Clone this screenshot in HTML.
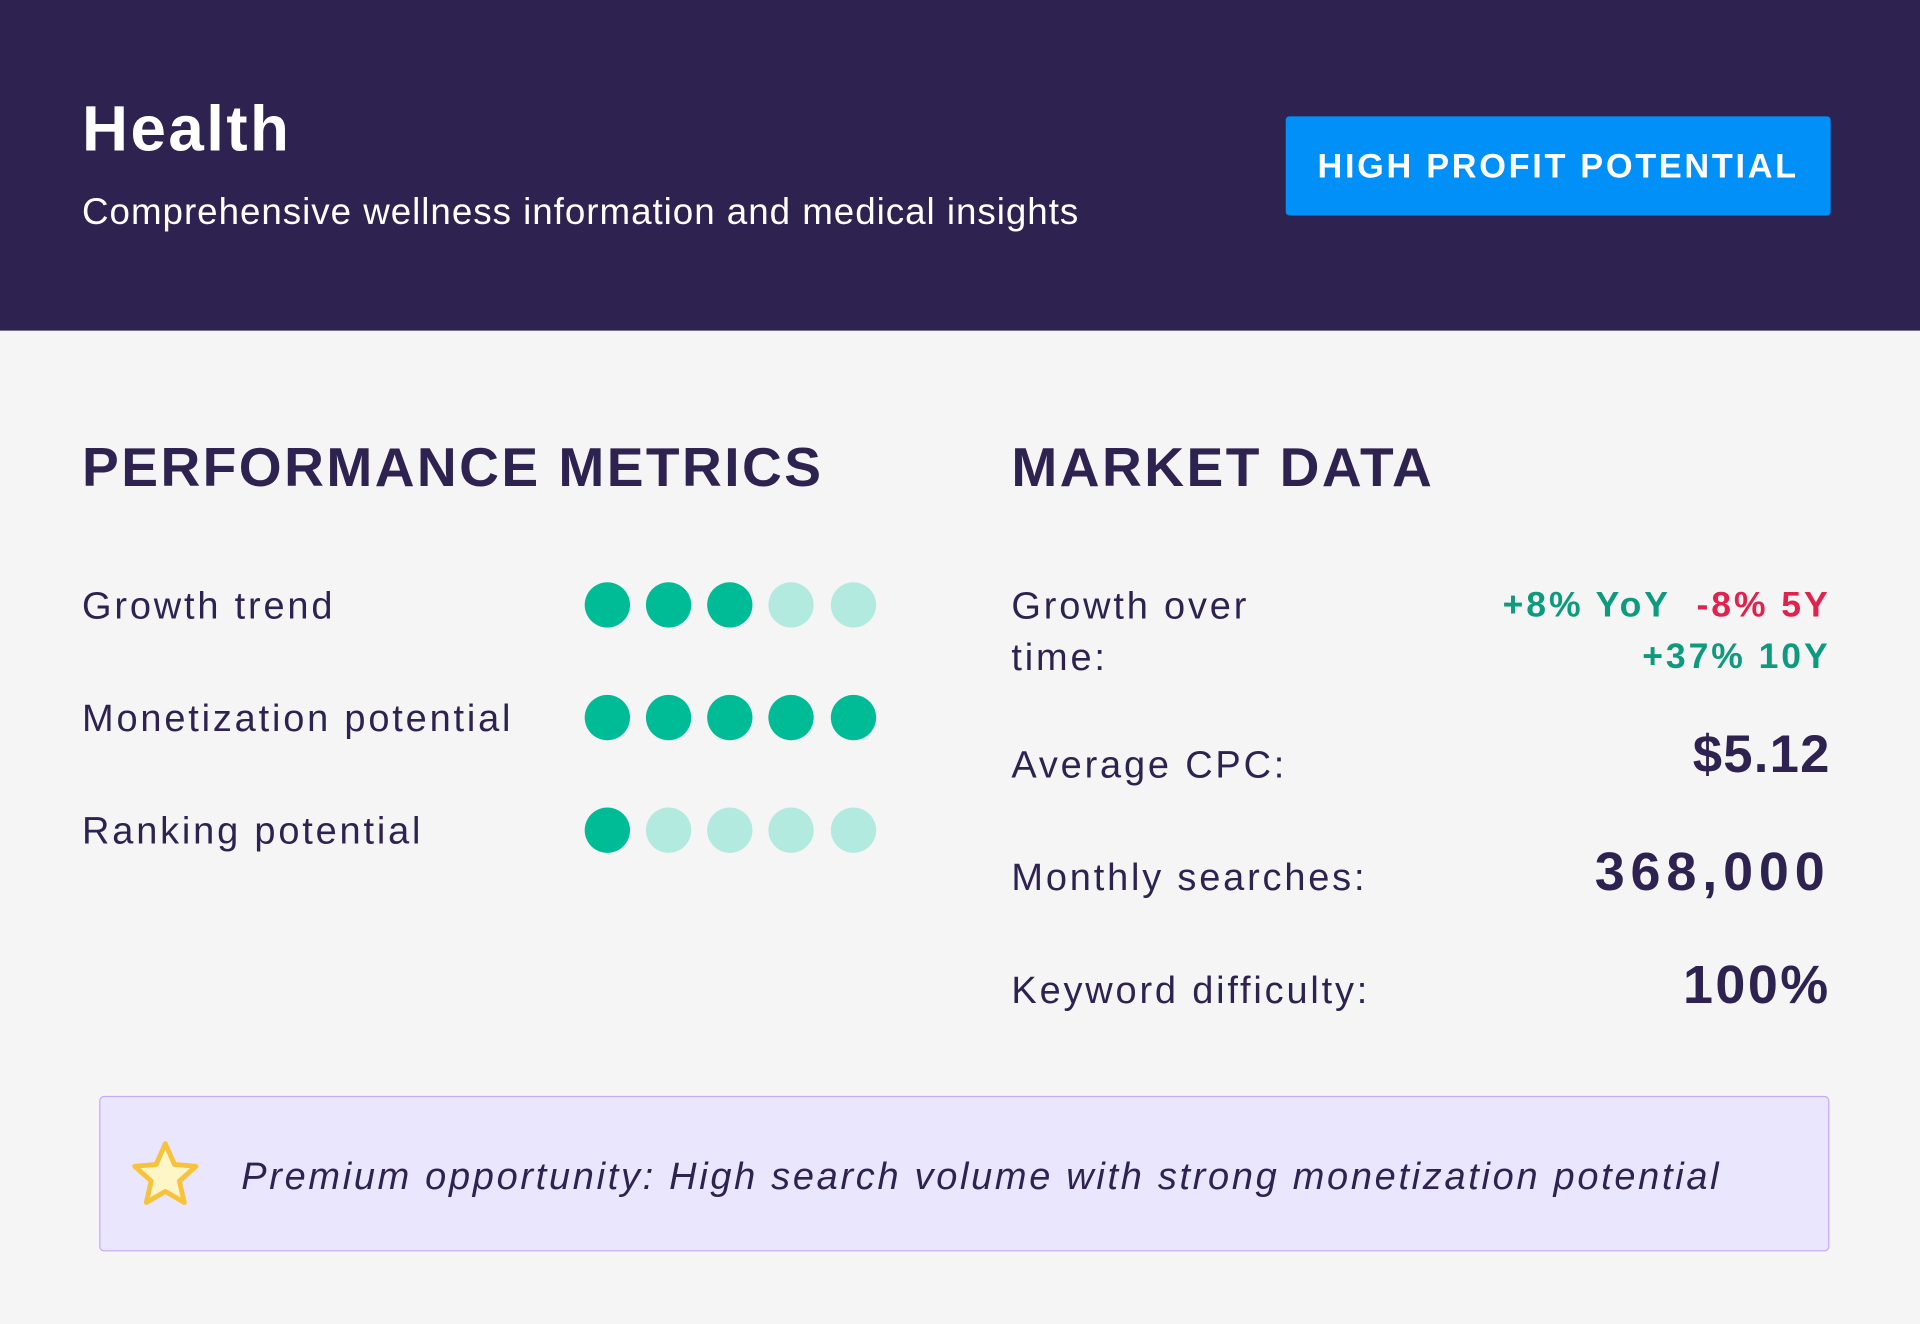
<!DOCTYPE html>
<html><head><meta charset="utf-8"><style>
html,body{margin:0;padding:0;width:1920px;height:1324px;overflow:hidden;background:#f5f5f5}
#w{position:absolute;left:0;top:0;width:1568px;height:1081px;transform:scale(1.22449);transform-origin:0 0;font-family:"Liberation Sans",sans-serif;color:#2e2350}
.a{position:absolute;white-space:nowrap}
.hdr{position:absolute;left:0;top:0;width:1568px;height:270px;background:#2e2350}
.lbl{font-size:31px;letter-spacing:2.3px;transform:translateY(-50%)}
.dot{position:absolute;width:37px;height:37px;border-radius:50%;transform:translate(-50%,-50%)}
.d{background:#00bc96}.l{background:#b3eadf}
.val{font-weight:bold;right:73px;transform:translateY(-50%);letter-spacing:1px}
</style></head><body><div id="w">
<div class="hdr"></div>
<div class="a" style="left:67px;top:76px;font-size:52px;font-weight:bold;color:#fff;letter-spacing:2px">Health</div>
<div class="a" style="left:67px;top:157px;font-size:30px;color:#fff;letter-spacing:0.8px">Comprehensive wellness information and medical insights</div>
<div class="a" style="left:1050px;top:95px;width:445px;height:81px;background:#0090f8;border-radius:3px;color:#fff;font-weight:bold;font-size:28px;letter-spacing:2.2px;line-height:81px;text-align:center">HIGH PROFIT POTENTIAL</div>

<div class="a" style="left:67px;top:356px;font-size:45px;font-weight:bold;letter-spacing:2px">PERFORMANCE METRICS</div>
<div class="a" style="left:826px;top:356px;font-size:45px;font-weight:bold;letter-spacing:2px">MARKET DATA</div>

<div class="a lbl" style="left:67px;top:495px">Growth trend</div>
<div class="a lbl" style="left:67px;top:587px">Monetization potential</div>
<div class="a lbl" style="left:67px;top:679px">Ranking potential</div>

<div class="dot d" style="left:496px;top:494px"></div><div class="dot d" style="left:546px;top:494px"></div><div class="dot d" style="left:596px;top:494px"></div><div class="dot l" style="left:646px;top:494px"></div><div class="dot l" style="left:697px;top:494px"></div>
<div class="dot d" style="left:496px;top:586px"></div><div class="dot d" style="left:546px;top:586px"></div><div class="dot d" style="left:596px;top:586px"></div><div class="dot d" style="left:646px;top:586px"></div><div class="dot d" style="left:697px;top:586px"></div>
<div class="dot d" style="left:496px;top:678px"></div><div class="dot l" style="left:546px;top:678px"></div><div class="dot l" style="left:596px;top:678px"></div><div class="dot l" style="left:646px;top:678px"></div><div class="dot l" style="left:697px;top:678px"></div>

<div class="a lbl" style="left:826px;top:495px">Growth over</div>
<div class="a lbl" style="left:826px;top:537px">time:</div>
<div class="a val" style="top:495px;font-size:29px;letter-spacing:2.4px"><span style="color:#0e9a7d">+8% YoY</span>&nbsp; <span style="color:#e0234e">-8% 5Y</span></div>
<div class="a val" style="top:537px;font-size:29px;color:#0e9a7d;letter-spacing:2.4px">+37% 10Y</div>

<div class="a lbl" style="left:826px;top:625px">Average CPC:</div>
<div class="a val" style="top:617px;font-size:43px">$5.12</div>
<div class="a lbl" style="left:826px;top:717px">Monthly searches:</div>
<div class="a val" style="top:713px;font-size:44px;letter-spacing:4.8px">368,000</div>
<div class="a lbl" style="left:826px;top:809px">Keyword difficulty:</div>
<div class="a val" style="top:805px;font-size:44px;letter-spacing:2px">100%</div>

<div class="a" style="left:81px;top:895px;width:1411px;height:125px;background:#e9e6fd;border:1.5px solid #c9a8f5;border-radius:4px"></div>
<svg class="a" style="left:105px;top:930px" width="60" height="60" viewBox="0 0 60 60"><polygon points="30,4 37.5,21 55,22.5 41.5,34.5 45.5,52 30,43 14.5,52 18.5,34.5 5,22.5 22.5,21" fill="#fff6c8" stroke="#f7c33c" stroke-width="4" stroke-linejoin="round"/></svg>
<div class="a lbl" style="left:197px;top:961px;font-style:italic;font-size:31px;letter-spacing:2.2px">Premium opportunity: High search volume with strong monetization potential</div>
</div></body></html>
